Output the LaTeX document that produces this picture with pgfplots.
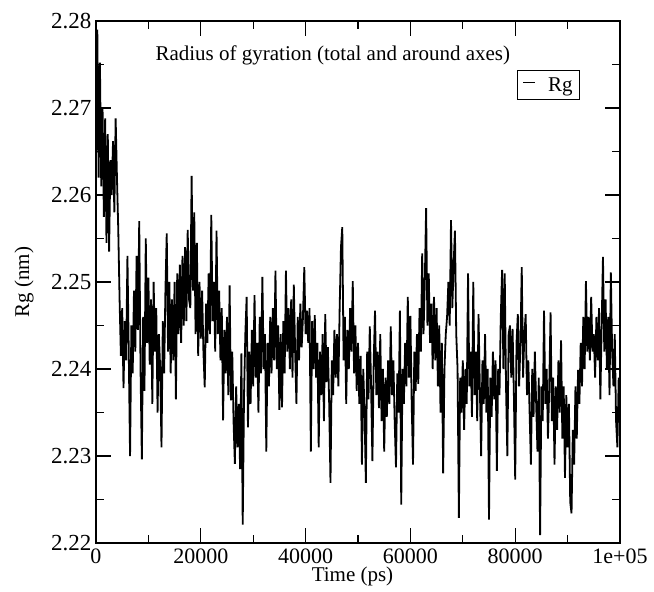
\documentclass[border=0pt]{standalone}
\usepackage{pgfplots}
\pgfplotsset{compat=1.18}
\usepackage{pgfplotstable}
\usepackage{fontspec}
\setmainfont{Liberation Serif}

\pgfplotstableread{
t rg
0 2.2640
250 2.2790
500 2.2620
750 2.2752
1000 2.2610
1250 2.2700
1500 2.2575
1750 2.2688
2000 2.2545
2250 2.2670
2500 2.2535
2750 2.2640
3000 2.2600
3250 2.2662
3500 2.2580
3750 2.2688
4000 2.2620
4250 2.2560
4500 2.2480
4750 2.2415
5000 2.2470
5250 2.2378
5500 2.2455
5750 2.2410
6000 2.2530
6250 2.2420
6500 2.2300
6750 2.2450
7000 2.2395
7250 2.2490
7500 2.2420
7750 2.2530
8000 2.2445
8250 2.2570
8500 2.2400
8750 2.2296
9000 2.2460
9250 2.2375
9500 2.2550
9750 2.2430
10000 2.2505
10250 2.2405
10500 2.2480
10750 2.2360
11000 2.2500
11250 2.2420
11500 2.2470
11750 2.2350
12000 2.2440
12250 2.2400
12500 2.2310
12750 2.2455
13000 2.2395
13250 2.2490
13500 2.2556
13750 2.2420
14000 2.2500
14250 2.2395
14500 2.2480
14750 2.2410
15000 2.2500
15250 2.2365
15500 2.2510
15750 2.2440
16000 2.2520
16250 2.2430
16500 2.2530
16750 2.2450
17000 2.2540
17250 2.2455
17500 2.2560
17750 2.2480
18000 2.2470
18250 2.2622
18500 2.2490
18750 2.2580
19000 2.2440
19250 2.2545
19500 2.2415
19750 2.2500
20000 2.2435
20250 2.2490
20500 2.2420
20750 2.2379
21000 2.2475
21250 2.2430
21500 2.2510
21750 2.2440
22000 2.2577
22250 2.2455
22500 2.2500
22750 2.2420
23000 2.2559
23250 2.2440
23500 2.2490
23750 2.2410
24000 2.2470
24250 2.2341
24500 2.2445
24750 2.2395
25000 2.2460
25250 2.2370
25500 2.2496
25750 2.2364
26000 2.2420
26250 2.2340
26500 2.2291
26750 2.2380
27000 2.2310
27250 2.2360
27500 2.2285
27750 2.2418
28000 2.2221
28250 2.2370
28500 2.2440
28750 2.2483
29000 2.2333
29250 2.2420
29500 2.2360
29750 2.2445
30000 2.2380
30250 2.2485
30500 2.2390
30750 2.2430
31000 2.2350
31250 2.2460
31500 2.2395
31750 2.2506
32000 2.2400
32250 2.2440
32500 2.2305
32750 2.2430
33000 2.2380
33250 2.2460
33500 2.2395
33750 2.2470
34000 2.2410
34250 2.2513
34500 2.2400
34750 2.2450
35000 2.2353
35250 2.2440
35500 2.2356
35750 2.2455
36000 2.2395
36250 2.2513
36500 2.2420
36750 2.2470
37000 2.2400
37250 2.2480
37500 2.2390
37750 2.2497
38000 2.2420
38250 2.2360
38500 2.2460
38750 2.2410
39000 2.2475
39250 2.2425
39500 2.2460
39750 2.2517
40000 2.2440
40250 2.2467
40500 2.2430
40750 2.2470
41000 2.2305
41250 2.2455
41500 2.2400
41750 2.2462
42000 2.2390
42250 2.2430
42500 2.2310
42750 2.2420
43000 2.2370
43250 2.2440
43500 2.2340
43750 2.2463
44000 2.2385
44250 2.2425
44500 2.2360
44750 2.2269
45000 2.2410
45250 2.2370
45500 2.2445
45750 2.2390
46000 2.2440
46250 2.2380
46500 2.2470
46750 2.2540
47000 2.2563
47250 2.2410
47500 2.2460
47750 2.2360
48000 2.2445
48250 2.2400
48500 2.2470
48750 2.2420
49000 2.2501
49250 2.2395
49500 2.2450
49750 2.2375
50000 2.2430
50250 2.2360
50500 2.2415
50750 2.2290
51000 2.2400
51250 2.2350
51500 2.2269
51750 2.2420
52000 2.2365
52250 2.2449
52500 2.2380
52750 2.2294
53000 2.2410
53250 2.2467
53500 2.2370
53750 2.2420
54000 2.2355
54250 2.2440
54500 2.2340
54750 2.2400
55000 2.2305
55250 2.2390
55500 2.2345
55750 2.2410
56000 2.2360
56250 2.2449
56500 2.2370
56750 2.2410
57000 2.2340
57250 2.2287
57500 2.2395
57750 2.2350
58000 2.2467
58250 2.2244
58500 2.2400
58750 2.2360
59000 2.2430
59250 2.2380
59500 2.2483
59750 2.2390
60000 2.2461
60250 2.2360
60500 2.2290
60750 2.2420
61000 2.2375
61250 2.2440
61500 2.2383
61750 2.2470
62000 2.2420
62250 2.2533
62500 2.2440
62750 2.2500
63000 2.2585
63250 2.2450
63500 2.2510
63750 2.2430
64000 2.2475
64250 2.2400
64500 2.2483
64750 2.2410
65000 2.2470
65250 2.2380
65500 2.2450
65750 2.2350
66000 2.2430
66250 2.2280
66500 2.2400
66750 2.2440
67000 2.2460
67250 2.2500
67500 2.2450
67750 2.2571
68000 2.2470
68250 2.2520
68500 2.2559
68750 2.2440
69000 2.2400
69250 2.2229
69500 2.2390
69750 2.2350
70000 2.2410
70250 2.2330
70500 2.2400
70750 2.2360
71000 2.2510
71250 2.2380
71500 2.2420
71750 2.2345
72000 2.2500
72250 2.2370
72500 2.2420
72750 2.2340
73000 2.2463
73250 2.2380
73500 2.2300
73750 2.2410
74000 2.2360
74250 2.2440
74500 2.2350
74750 2.2400
75000 2.2227
75250 2.2390
75500 2.2345
75750 2.2420
76000 2.2365
76250 2.2410
76500 2.2283
76750 2.2400
77000 2.2370
77250 2.2460
77500 2.2514
77750 2.2400
78000 2.2510
78250 2.2380
78500 2.2300
78750 2.2440
79000 2.2450
79250 2.2390
79500 2.2446
79750 2.2370
80000 2.2273
80250 2.2430
80500 2.2463
80750 2.2380
81000 2.2430
81250 2.2517
81500 2.2390
81750 2.2440
82000 2.2463
82250 2.2370
82500 2.2410
82750 2.2350
83000 2.2290
83250 2.2400
83500 2.2345
83750 2.2420
84000 2.2360
84250 2.2305
84500 2.2390
84750 2.2209
85000 2.2380
85250 2.2340
85500 2.2467
85750 2.2360
86000 2.2400
86250 2.2320
86500 2.2380
86750 2.2465
87000 2.2340
87250 2.2390
87500 2.2290
87750 2.2380
88000 2.2330
88250 2.2410
88500 2.2350
88750 2.2433
89000 2.2320
89250 2.2380
89500 2.2275
89750 2.2370
90000 2.2310
90250 2.2360
90500 2.2247
90750 2.2234
91000 2.2330
91250 2.2290
91500 2.2380
91750 2.2320
92000 2.2399
92250 2.2360
92500 2.2430
92750 2.2380
93000 2.2460
93250 2.2400
93500 2.2501
93750 2.2420
94000 2.2460
94250 2.2410
94500 2.2483
94750 2.2420
95000 2.2440
95250 2.2390
95500 2.2460
95750 2.2410
96000 2.2470
96250 2.2365
96500 2.2450
96750 2.2529
97000 2.2420
97250 2.2480
97500 2.2400
97750 2.2460
98000 2.2370
98250 2.2511
98500 2.2420
98750 2.2380
99000 2.2440
99250 2.2340
99500 2.2310
99750 2.2390
100000 2.2350
}\rgdata

\begin{document}
\begin{tikzpicture}
\begin{axis}[
  name=ax,
  scale only axis,
  width=524bp, height=522bp,
  xmin=0, xmax=100000,
  ymin=2.22, ymax=2.28,
  scaled x ticks=false, scaled y ticks=false,
  xtick={0,20000,40000,60000,80000,100000},
  xticklabels={\mbox{0},\mbox{20000},\mbox{40000},\mbox{60000},\mbox{80000},\mbox{1e+05}},
  minor xtick={10000,30000,50000,70000,90000},
  ytick={2.22,2.23,2.24,2.25,2.26,2.27,2.28},
  yticklabels={\mbox{2.22},\mbox{2.23},\mbox{2.24},\mbox{2.25},\mbox{2.26},\mbox{2.27},\mbox{2.28}},
  minor ytick={2.225,2.235,2.245,2.255,2.265,2.275},
  tick align=inside,
  major tick length=15bp,
  minor tick length=8.5bp,
  tick style={black, line width=1.2bp},
  axis line style={line width=1.2bp},
  yticklabel style={font=\fontsize{23bp}{27bp}\selectfont, xshift=-1bp},
  xticklabel style={font=\fontsize{22bp}{26bp}\selectfont, yshift=-2bp},
  xlabel={Time (ps)},
  ylabel={Rg (nm)},
  xlabel style={font=\fontsize{21bp}{25bp}\selectfont, at={(axis description cs:0.4895,-0.073)}, anchor=base},
  ylabel style={font=\fontsize{21bp}{25bp}\selectfont, at={(axis description cs:-0.1374,0.5)}, anchor=center},
  legend style={at={(rel axis cs:0.9237,0.9061)}, anchor=north east, draw=black, line width=1bp,
    font=\fontsize{21bp}{24bp}\selectfont, inner xsep=5bp, inner ysep=5bp, column sep=10bp},
  legend image code/.code={\draw[black, line width=1.2bp] (0bp,0.25em) -- (12bp,0.25em);},
]
\addplot[black, line width=1.8bp] table[x=t, y=rg] {\rgdata};
\addlegendentry{Rg}
\node[anchor=base west, font=\fontsize{21bp}{25bp}\selectfont] at (rel axis cs:0.1069,0.9234) {Radius of gyration (total and around axes)};
\end{axis}
\pgfresetboundingbox
\path[use as bounding box] ([shift={(-96bp,-49bp)}]ax.south west) rectangle ([shift={(34bp,21bp)}]ax.north east);
\end{tikzpicture}
\end{document}
